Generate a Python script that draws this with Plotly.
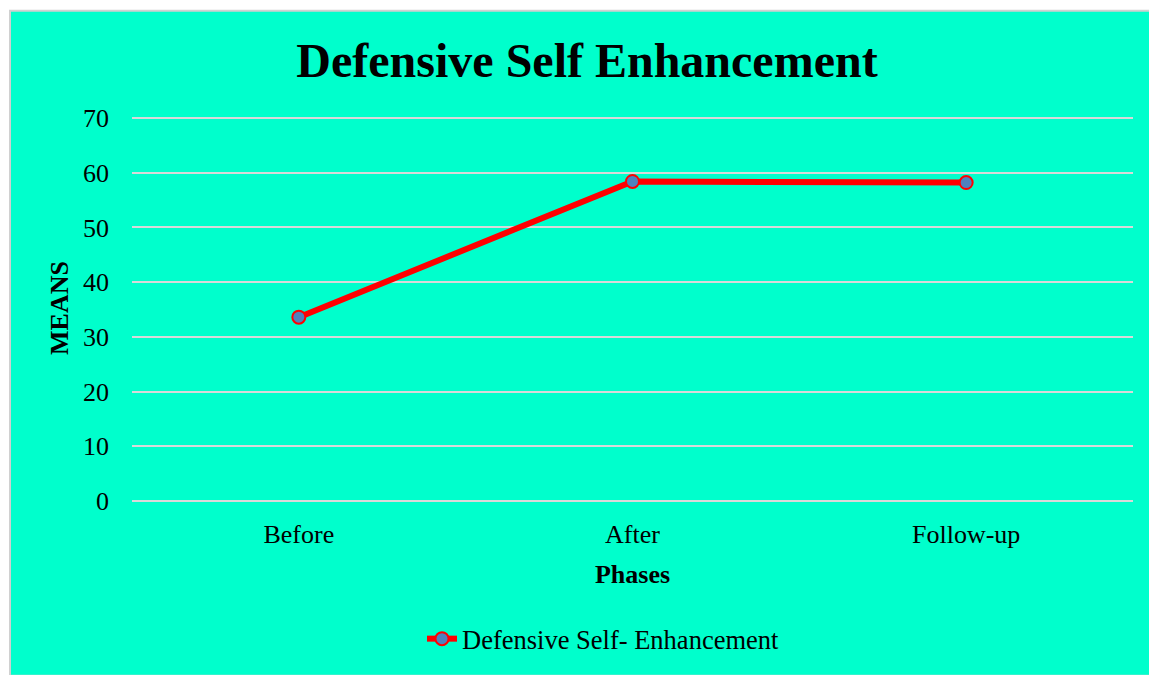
import plotly.graph_objects as go

# Mean scores per phase
phases = ["Before", "After", "Follow-up"]
means = [33.6, 58.4, 58.2]
series_name = "Defensive Self- Enhancement"
y_ticks = [0, 10, 20, 30, 40, 50, 60, 70]

W, H = 1149, 675
ML, MR, MT, MB = 132, 16, 115, 171
plot_h = H - MT - MB
plot_w = W - ML - MR

BG = "#00FFCC"
GRID = "#D9D9D9"
FONT = "Liberation Serif, Times New Roman, serif"

fig = go.Figure()
fig.add_trace(go.Scatter(
    x=phases, y=means, name=series_name, mode="lines+markers",
    line=dict(color="#FF0000", width=6),
    marker=dict(size=13, color="#4F81BD", line=dict(color="#FF0000", width=2)),
))

# Chart-area panel with a thin grey frame, inset from the page's top-left corner
def px_x(px):
    return (px - ML) / plot_w

def px_y(py):
    return (H - MB - py) / plot_h

fig.add_shape(type="rect", xref="paper", yref="paper", layer="below",
              x0=px_x(10), x1=px_x(W + 5), y0=px_y(H + 5), y1=px_y(10),
              fillcolor=BG, line=dict(color="#D0D0D0", width=2))

fig.update_layout(
    width=W, height=H,
    margin=dict(l=ML, r=MR, t=MT, b=MB),
    paper_bgcolor="white",
    plot_bgcolor="rgba(0,0,0,0)",
    font=dict(family=FONT, size=26, color="black"),
    title=dict(text="<b>Defensive Self Enhancement</b>", font=dict(size=48, family=FONT),
               x=587 / W, xanchor="center", y=1 - 60 / H, yanchor="middle",
               xref="container", yref="container"),
    showlegend=True,
    legend=dict(orientation="h", x=px_x(422), xanchor="left", y=px_y(643), yanchor="middle",
                bgcolor="rgba(0,0,0,0)", font=dict(size=26.5, family=FONT)),
)
fig.update_xaxes(
    type="category", range=[-0.5, 2.5], showgrid=False, showline=False, ticks="",
    ticklabelstandoff=15,
    title=dict(text="<b>Phases</b>", font=dict(size=26, family=FONT), standoff=16),
)
fig.update_yaxes(
    range=[0, 70.55], tickvals=y_ticks, showgrid=True, gridcolor=GRID, gridwidth=2,
    zeroline=True, zerolinecolor=GRID, zerolinewidth=2, showline=False, ticks="",
    ticklabelstandoff=22,
    title=dict(text="<b>MEANS</b>", font=dict(size=26, family=FONT), standoff=6),
)

fig.write_html("out.html")
